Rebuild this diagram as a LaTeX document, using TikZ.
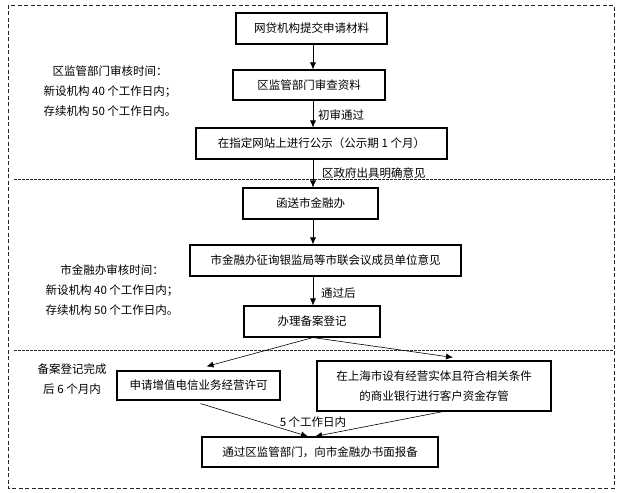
\documentclass[tikz,border=0pt]{standalone}
\usepackage{fontspec}
\setmainfont{Noto Sans CJK SC}
\usetikzlibrary{arrows.meta}

\tikzset{
  stepbox/.style={draw, line width=1.1pt, inner sep=0pt, minimum height=31pt, align=center, font=\fontsize{11.5}{20}\selectfont},
  note/.style={align=center, inner sep=0pt, font=\fontsize{11.5}{20}\selectfont},
  flow/.style={-{Latex[length=7pt,width=6pt]}, line width=0.6pt},
  frame/.style={dash pattern=on 4pt off 2.5pt, line width=0.8pt, draw=black!85},
  split/.style={dash pattern=on 2.5pt off 1.5pt, line width=0.7pt, draw=black!85}
}

\begin{document}
\begin{tikzpicture}[x=1pt,y=-1pt]
        \useasboundingbox (0,0) rectangle (620,492);

        \draw[frame] (8,5) rectangle (614,488);
        \coordinate (fl1) at (14,179);
        \coordinate (fr1) at (614,179);
        \coordinate (fl2) at (14,350);
        \coordinate (fr2) at (614,350);
        \draw[split] (fl1) -- (fr1);
        \draw[split] (fl2) -- (fr2);

        \node[stepbox,minimum width=151pt] (b1) at (311.5,28.5) {网贷机构提交申请材料};
        \node[stepbox,minimum width=152pt,minimum height=30pt] (b2) at (309,85) {区监管部门审查资料};
        \node[stepbox,minimum width=251pt] (b3) at (321.5,143.5) {在指定网站上进行公示（公示期 1 个月）};
        \node[stepbox,minimum width=135pt] (b4) at (310.5,203.5) {函送市金融办};
        \node[stepbox,minimum width=271pt] (b5) at (325.5,260.5) {市金融办征询银监局等市联会议成员单位意见};
        \node[stepbox,minimum width=136pt] (b6) at (312,321.5) {办理备案登记};
        \node[stepbox,minimum width=163pt,minimum height=29pt] (b7) at (198.5,385.5) {申请增值电信业务经营许可};
        \node[stepbox,minimum width=234pt,minimum height=50pt] (b8) at (434,386) {在上海市设有经营实体且符合相关条件\\的商业银行进行客户资金存管};
        \node[stepbox,minimum width=236pt,minimum height=30pt] (b9) at (320,452) {通过区监管部门，向市金融办书面报备};

        \node[note] (n1) at (110,91) {区监管部门审核时间：\\新设机构 40 个工作日内；\\存续机构 50 个工作日内。};
        \node[note] (n2) at (112,290) {市金融办审核时间：\\新设机构 40 个工作日内；\\存续机构 50 个工作日内。};
        \node[note] (n3) at (72,379) {备案登记完成\\后 6 个月内};

        \coordinate (ax) at (313,0);
        \draw[flow] (b1.south -| ax) -- (b2.north -| ax);
        \draw[flow] (b2.south -| ax) -- (b3.north -| ax);
        \draw[flow] (b3.south -| ax) -- (b4.north -| ax);
        \draw[flow] (b4.south -| ax) -- (b5.north -| ax);
        \draw[flow] (b5.south -| ax) -- (b6.north -| ax);
        \draw[flow] (b6.south -| ax) -- ([xshift=8pt,yshift=4pt]b7.north);
        \draw[flow] (b6.south -| ax) -- ([xshift=19pt,yshift=3pt]b8.north);
        \draw[flow] ([xshift=2pt,yshift=-3pt]b7.south) -- ([xshift=-12pt]b9.north);
        \draw[flow] ([xshift=9pt]b8.south) -- ([xshift=-5pt]b9.north);

        \node[note,anchor=west] (l1) at (318,115) {初审通过};
        \node[note,anchor=west] (l2) at (322,173) {区政府出具明确意见};
        \node[note,anchor=west] (l3) at (321,293) {通过后};
        \node[note] (l4) at (313,422) {5 个工作日内};
      \end{tikzpicture}
\end{document}
